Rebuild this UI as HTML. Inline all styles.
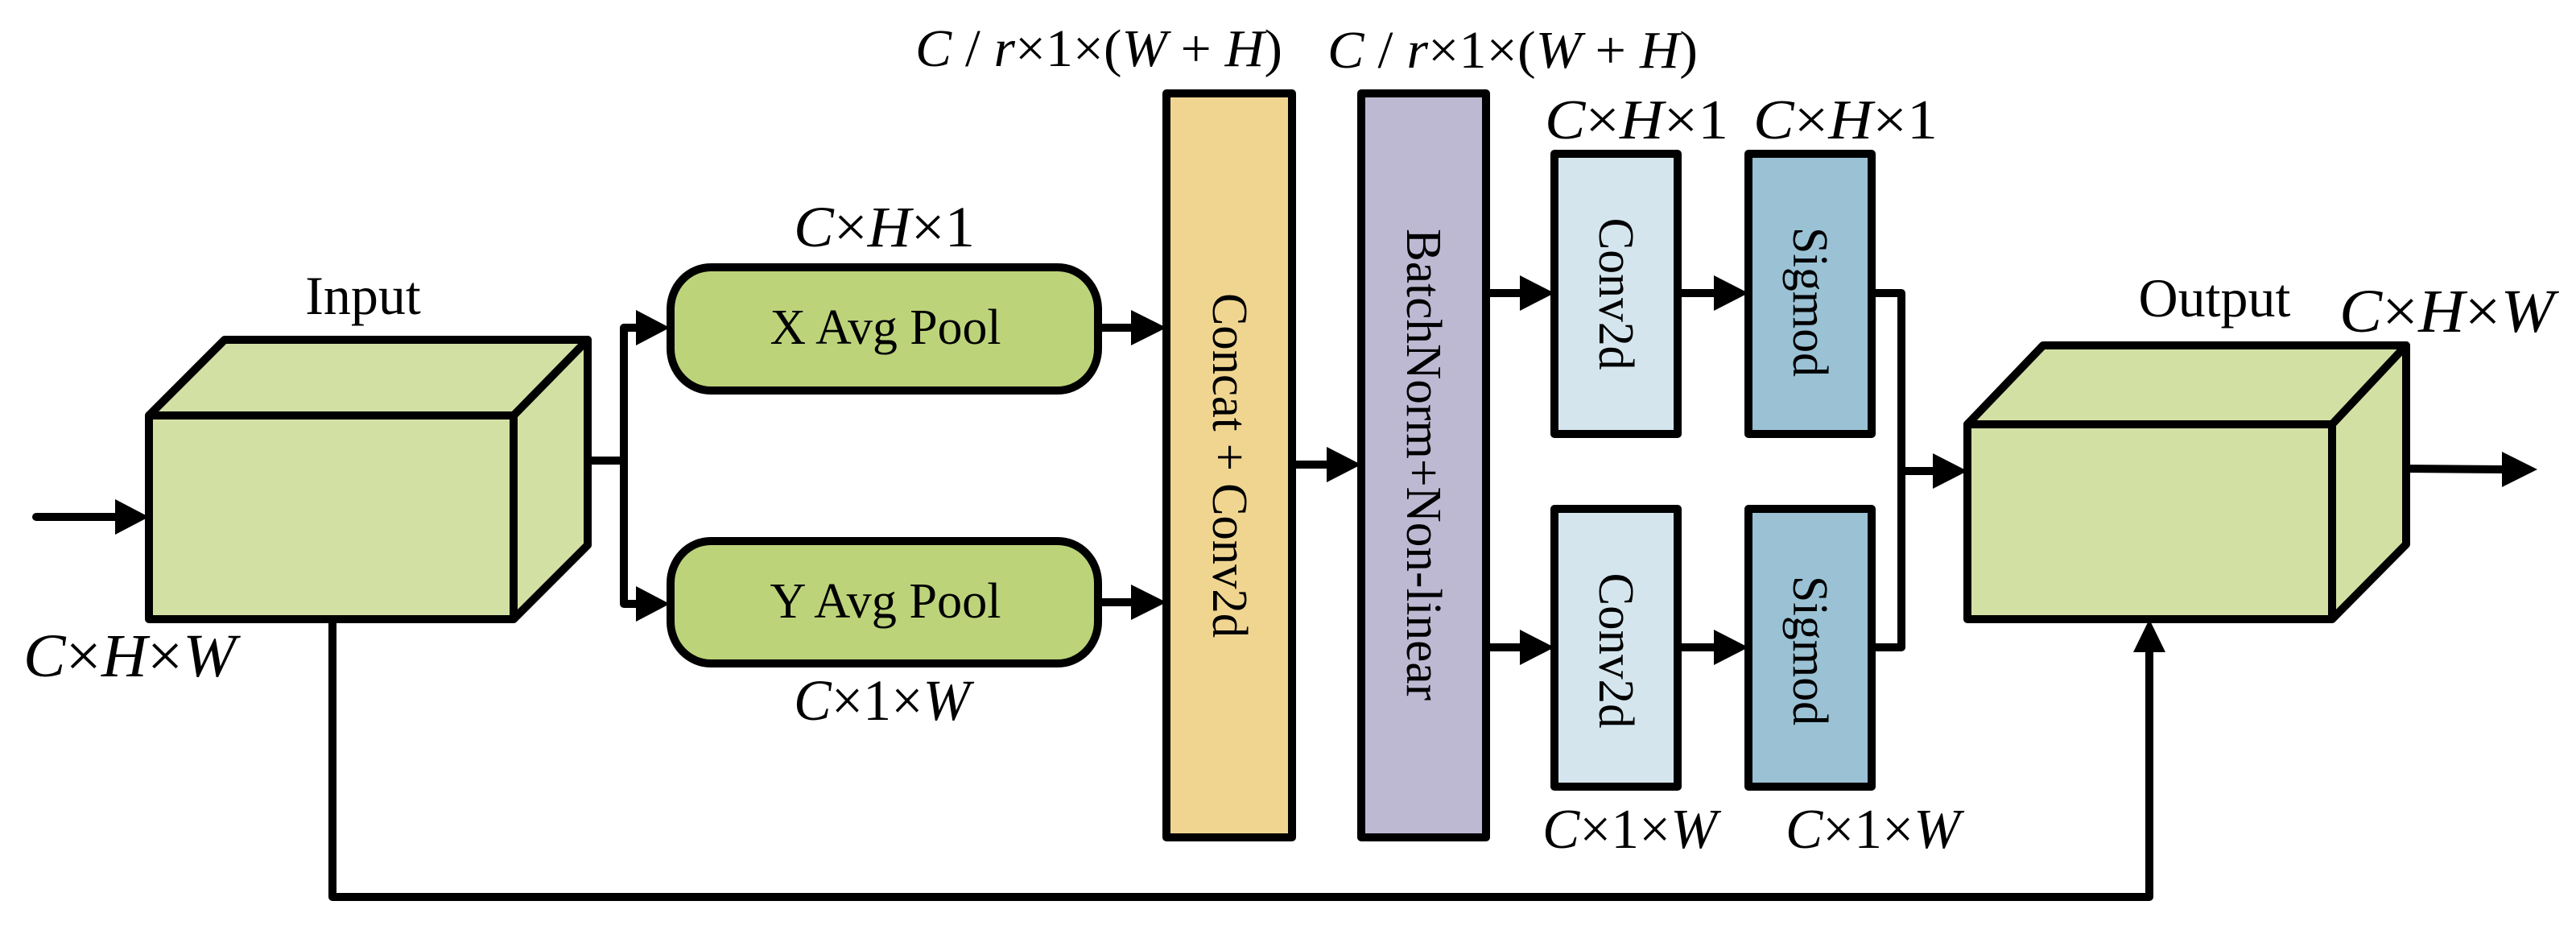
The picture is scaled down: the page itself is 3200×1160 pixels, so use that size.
<!DOCTYPE html>
<html><head><meta charset="utf-8"><style>
html,body{margin:0;padding:0;background:#fff}
svg{display:block}
text{font-family:"Liberation Serif","DejaVu Serif",serif;fill:#000}
.i{font-style:italic;font-family:"Liberation Serif","DejaVu Serif",serif}
</style></head><body>
<svg width="3200" height="1160" viewBox="0 0 3200 1160" xmlns="http://www.w3.org/2000/svg">
<g stroke="#000" stroke-width="10" stroke-linejoin="round" stroke-linecap="round">
<polygon points="185,516 279,422 730,422 730,677 638,769 185,769" fill="#d3e0a4"/>
<line x1="185" y1="516" x2="638" y2="516"/>
<line x1="638" y1="516" x2="638" y2="769"/>
<line x1="638" y1="516" x2="730" y2="422"/>
<polygon points="2444,527 2538,429 2989,429 2989,676 2897,769 2444,769" fill="#d3e0a4"/>
<line x1="2444" y1="527" x2="2897" y2="527"/>
<line x1="2897" y1="527" x2="2897" y2="769"/>
<line x1="2897" y1="527" x2="2989" y2="429"/>
<rect x="833" y="332" width="531" height="153" rx="50" ry="52" fill="#bcd37a"/>
<rect x="833" y="672" width="531" height="152" rx="50" ry="52" fill="#bcd37a"/>
<rect x="1449" y="116" width="156" height="924" fill="#f0d591"/>
<rect x="1691" y="116" width="155" height="924" fill="#bdb9d2"/>
<rect x="1931" y="191" width="153" height="348" fill="#d5e5ee"/>
<rect x="2172" y="191" width="153" height="348" fill="#9ac1d4"/>
<rect x="1931" y="632" width="153" height="345" fill="#d5e5ee"/>
<rect x="2172" y="632" width="153" height="345" fill="#9ac1d4"/>
<g fill="none">
<line x1="45" y1="642" x2="150" y2="642"/>
<polyline points="730,572 775,572"/>
<polyline points="790,407 775,407 775,750 790,750"/>
<line x1="1364" y1="407" x2="1410" y2="407"/>
<line x1="1364" y1="748" x2="1410" y2="748"/>
<line x1="1605" y1="577" x2="1650" y2="577"/>
<line x1="1846" y1="364" x2="1890" y2="364"/>
<line x1="1846" y1="804" x2="1890" y2="804"/>
<line x1="2084" y1="364" x2="2130" y2="364"/>
<line x1="2084" y1="804" x2="2130" y2="804"/>
<polyline points="2325,364 2362,364 2362,804 2325,804"/>
<line x1="2362" y1="585" x2="2405" y2="585"/>
<polyline points="413,769 413,1114 2670,1114 2670,810"/>
<line x1="2989" y1="582" x2="3110" y2="583"/>
</g>
</g>
<g fill="#000">
<polygon points="143,620 185,642 143,664"/>
<polygon points="790,385 832,407 790,429"/>
<polygon points="790,728 832,750 790,772"/>
<polygon points="1405,385 1449,407 1405,429"/>
<polygon points="1405,726 1449,748 1405,770"/>
<polygon points="1648,555 1691,577 1648,599"/>
<polygon points="1888,342 1931,364 1888,386"/>
<polygon points="1888,782 1931,804 1888,826"/>
<polygon points="2129,342 2172,364 2129,386"/>
<polygon points="2129,782 2172,804 2129,826"/>
<polygon points="2401,563 2444,585 2401,607"/>
<polygon points="3108,561 3152,583 3108,605"/>
<polygon points="2650,810 2670,769 2690,810"/>
</g>
<text x="451" y="390" font-size="68" text-anchor="middle">Input</text>
<text x="2751" y="393" font-size="68" text-anchor="middle">Output</text>
<text x="1100" y="427" font-size="62" text-anchor="middle" textLength="287" lengthAdjust="spacingAndGlyphs">X Avg Pool</text>
<text x="1100" y="767" font-size="62" text-anchor="middle" textLength="287" lengthAdjust="spacingAndGlyphs">Y Avg Pool</text>
<text x="29" y="840" font-size="76" textLength="264" lengthAdjust="spacingAndGlyphs"><tspan class="i">C</tspan>×<tspan class="i">H</tspan>×<tspan class="i">W</tspan></text>
<text x="2906" y="412" font-size="76" textLength="267" lengthAdjust="spacingAndGlyphs"><tspan class="i">C</tspan>×<tspan class="i">H</tspan>×<tspan class="i">W</tspan></text>
<text x="986" y="306" font-size="72" textLength="225" lengthAdjust="spacingAndGlyphs"><tspan class="i">C</tspan>×<tspan class="i">H</tspan>×1</text>
<text x="986" y="894" font-size="72" textLength="219" lengthAdjust="spacingAndGlyphs"><tspan class="i">C</tspan>×1×<tspan class="i">W</tspan></text>
<text x="1137" y="82" font-size="66" textLength="456" lengthAdjust="spacingAndGlyphs"><tspan class="i">C</tspan> / <tspan class="i">r</tspan>×1×(<tspan class="i">W</tspan> + <tspan class="i">H</tspan>)</text>
<text x="1649" y="84" font-size="66" textLength="460" lengthAdjust="spacingAndGlyphs"><tspan class="i">C</tspan> / <tspan class="i">r</tspan>×1×(<tspan class="i">W</tspan> + <tspan class="i">H</tspan>)</text>
<text x="1919" y="172" font-size="70" textLength="228" lengthAdjust="spacingAndGlyphs"><tspan class="i">C</tspan>×<tspan class="i">H</tspan>×1</text>
<text x="2178" y="172" font-size="70" textLength="229" lengthAdjust="spacingAndGlyphs"><tspan class="i">C</tspan>×<tspan class="i">H</tspan>×1</text>
<text x="1916" y="1053" font-size="70" textLength="217" lengthAdjust="spacingAndGlyphs"><tspan class="i">C</tspan>×1×<tspan class="i">W</tspan></text>
<text x="2218" y="1053" font-size="70" textLength="217" lengthAdjust="spacingAndGlyphs"><tspan class="i">C</tspan>×1×<tspan class="i">W</tspan></text>
<text transform="translate(1527,578) rotate(90)" font-size="62" text-anchor="middle" dominant-baseline="central" textLength="428" lengthAdjust="spacingAndGlyphs">Concat + Conv2d</text>
<text transform="translate(1768,577) rotate(90)" font-size="62" text-anchor="middle" dominant-baseline="central" textLength="586" lengthAdjust="spacingAndGlyphs">BatchNorm+Non-linear</text>
<text transform="translate(2007,365) rotate(90)" font-size="62" text-anchor="middle" dominant-baseline="central" textLength="189" lengthAdjust="spacingAndGlyphs">Conv2d</text>
<text transform="translate(2007,808) rotate(90)" font-size="62" text-anchor="middle" dominant-baseline="central" textLength="193" lengthAdjust="spacingAndGlyphs">Conv2d</text>
<text transform="translate(2248,375) rotate(90)" font-size="62" text-anchor="middle" dominant-baseline="central" textLength="186" lengthAdjust="spacingAndGlyphs">Sigmod</text>
<text transform="translate(2248,808) rotate(90)" font-size="62" text-anchor="middle" dominant-baseline="central" textLength="186" lengthAdjust="spacingAndGlyphs">Sigmod</text>
</svg>
</body></html>
